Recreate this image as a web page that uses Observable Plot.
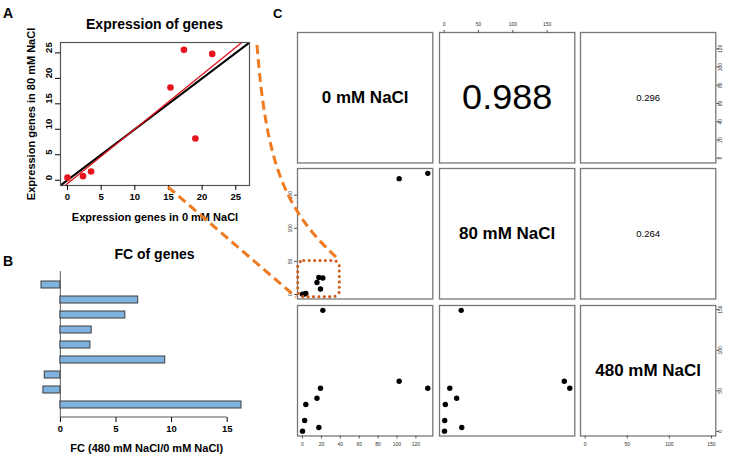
<!DOCTYPE html>
<html><head><meta charset="utf-8">
<script src="https://cdn.jsdelivr.net/npm/d3@7"></script>
<script src="https://cdn.jsdelivr.net/npm/@observablehq/plot@0.6"></script>
<style>
body{margin:0;background:#fff;font-family:"Liberation Sans",Arial,sans-serif}
#root{position:relative;width:737px;height:461px;overflow:hidden;background:#fff}
#root svg{position:absolute;overflow:visible}
</style></head>
<body><div id="root"></div>
<script>
// ---------- data ----------
const genes   = ["G1","G2","G3","G4","G5","G6","G7","G8","G9"];
const expr0   = [0, 2.3, 3.5, 15.3, 17.3, 19.0, 21.5, 102.3, 132.6];
const expr80  = [0.5, 0.8, 1.7, 18.2, 25.6, 8.2, 24.8, 175, 183];
const expr480 = [0.4, 13.5, 33.2, 41, 4.9, 53.3, 149.2, 61.9, 53.3];
const fcGenes  = ["F1","F2","F3","F4","F5","F6","F7","F8","F9"];
const fcValues = [-1.7, 7.0, 5.84, 2.81, 2.7, 9.43, -1.41, -1.53, 16.29];
const varNames = ["0 mM NaCl", "80 mM NaCl", "480 mM NaCl"];
const corPairs = [[0, 1, "0.988"], [0, 2, "0.296"], [1, 2, "0.264"]];
const limA = [0, 26];
const ticksA = [0, 5, 10, 15, 20, 25];
const ticksB = [0, 5, 10, 15];
const pairTicks = [[0, 20, 40, 60, 80, 100, 120], [0, 50, 100, 150], [0, 50, 100, 150]];
const zoomBox = {x1: -4.5, x2: 39.5, y1: -4, y2: 50.5};

const FONT = "Liberation Sans, Arial, sans-serif";
const root = document.getElementById("root");
const ext = a => { const [lo, hi] = d3.extent(a); const d = (hi - lo) * 0.04; return [lo - d, hi + d]; };
function place(el, left, top) { el.style.left = left + "px"; el.style.top = top + "px"; root.appendChild(el); return el; }

const table = genes.map((g, k) => ({gene: g, e0: expr0[k], e80: expr80[k], e480: expr480[k]}));

// ---------- Panel A ----------
const domA = ext(limA);
const inA = table.filter(d => d.e0 <= limA[1] && d.e80 <= limA[1]);
const mx = d3.mean(inA, d => d.e0), my = d3.mean(inA, d => d.e80);
const slope = d3.sum(inA, d => (d.e0 - mx) * (d.e80 - my)) / d3.sum(inA, d => (d.e0 - mx) ** 2);
const icpt = my - slope * mx;
const lineX = [domA[0] - 2, domA[1] + 2];
const A = Plot.plot({
  width: 260, height: 230, marginLeft: 60, marginRight: 11, marginTop: 42, marginBottom: 45,
  style: {fontFamily: FONT, fontSize: "9.5px", fontWeight: "bold", background: "transparent", color: "#000"},
  x: {domain: domA},
  y: {domain: domA},
  marks: [
    Plot.line(lineX, {x: d => d, y: d => d, stroke: "#000", strokeWidth: 2, clip: true}),
    Plot.line(lineX, {x: d => d, y: d => icpt + slope * d, stroke: "#e0141e", strokeWidth: 1.3, clip: true}),
    Plot.dot(inA, {x: "e0", y: "e80", r: 3.3, fill: "#e8141c", stroke: "none"}),
    Plot.frame({stroke: "#555", strokeWidth: 1.2}),
    Plot.axisX({ticks: ticksA, tickSize: 5, tickPadding: 3, label: "Expression genes in 0 mM NaCl", labelAnchor: "center", labelArrow: "none", labelOffset: 35, fontSize: 9.5}),
    Plot.axisY({ticks: ticksA, tickSize: 5, tickFormat: () => "", label: "Expression genes in 80 mM NaCl", labelAnchor: "center", labelArrow: "none", labelOffset: 33, fontSize: 9.5}),
    Plot.text(ticksA, {y: d => d, text: d => String(d), frameAnchor: "left", dx: -12, rotate: -90, fontSize: 9.5, fontWeight: "bold", fill: "#000"})
  ]
});
place(A, 0, 0);
A.querySelectorAll("g[aria-label='x-axis label'] text, g[aria-label='y-axis label'] text").forEach(t => t.setAttribute("font-size", "11"));

// ---------- Panel B ----------
const fcData = fcGenes.map((g, k) => ({gene: g, fc: fcValues[k]}));
const B = Plot.plot({
  width: 260, height: 231, marginLeft: 33, marginRight: 11, marginTop: 41, marginBottom: 44,
  style: {fontFamily: FONT, fontSize: "9.5px", fontWeight: "bold", background: "transparent", color: "#000"},
  x: {domain: ext([0, ...fcValues])},
  y: {domain: fcGenes, axis: null, paddingInner: 0.56, paddingOuter: 0.4},
  marks: [
    Plot.ruleX([0], {stroke: "#777", strokeWidth: 1.2}),
    Plot.barX(fcData, {x: "fc", y: "gene", fill: "#7fb2de", stroke: "#3c3c3c", strokeWidth: 1}),
    Plot.axisX({ticks: ticksB, tickSize: 5, tickPadding: 3, label: null, fontSize: 9.5})
  ]
});
place(B, 0, 230);

// ---------- Panel C (pairs) ----------
const colX = [297.3, 438.7, 580], rowY = [31.7, 168.3, 305], PW = 135.3, PH = 130.5, M = 24;
const keys = ["e0", "e80", "e480"];
const doms = [expr0, expr80, expr480].map(ext);
for (let i = 0; i < 3; i++) for (let j = 0; j < 3; j++) {
  const marks = [];
  const xAxisHere = (j % 2 === 0 && i === 2) || (j % 2 === 1 && i === 0);
  const yAxisHere = (i % 2 === 0 && j === 2) || (i % 2 === 1 && j === 0);
  if (i === j) {
    marks.push(Plot.text([varNames[i]], {text: d => d, frameAnchor: "middle", fontSize: 17, fontWeight: "bold", fill: "#000"}));
  } else if (i < j) {
    const c = corPairs.find(p => p[0] === i && p[1] === j);
    marks.push(Plot.text([c[2]], {text: d => d, frameAnchor: "middle", fontSize: +c[2] > 0.5 ? 36 : 9.5, fill: "#000"}));
  } else {
    marks.push(Plot.dot(table, {x: keys[j], y: keys[i], r: 2.7, fill: "#000", stroke: "none"}));
  }
  marks.push(Plot.frame({stroke: "#777", strokeWidth: 1.3}));
  if (i === 1 && j === 0) {
    marks.push(Plot.rect([zoomBox], {x1: "x1", x2: "x2", y1: "y1", y2: "y2", fill: "none", stroke: "#cf5a1a", strokeWidth: 3, strokeDasharray: "0.1 5.3", strokeLinecap: "round", rx: 6}));
  }
  if (xAxisHere) marks.push(Plot.axisX({anchor: i === 0 ? "top" : "bottom", ticks: pairTicks[j], tickSize: 3, tickPadding: 3.5, label: null, fontSize: 5, fill: "#333"}));
  if (yAxisHere) marks.push(Plot.axisY({anchor: j === 0 ? "left" : "right", ticks: pairTicks[i], tickSize: 3, tickPadding: 3, tickRotate: -90, label: null, fontSize: 5, fill: "#333"}));
  const p = Plot.plot({
    width: PW + 2 * M, height: PH + 2 * M, margin: M,
    style: {fontFamily: FONT, fontSize: "5px", background: "transparent", color: "#555"},
    x: {domain: doms[j], axis: xAxisHere ? undefined : null},
    y: {domain: doms[i], axis: yAxisHere ? undefined : null},
    marks
  });
  place(p, colX[j] - M, rowY[i] - M);
}

// ---------- overlay: letters, titles, B axis line, connectors ----------
const ov = d3.select(root).append("svg").attr("width", 737).attr("height", 461)
  .style("left", "0px").style("top", "0px").style("pointer-events", "none")
  .attr("font-family", FONT);
const xB = B.scale("x");
const bottomB = 230 + 231 - 44;
ov.append("line").attr("x1", xB.apply(ticksB[0])).attr("x2", xB.apply(ticksB[ticksB.length - 1]))
  .attr("y1", bottomB).attr("y2", bottomB).attr("stroke", "#555").attr("stroke-width", 1.2);
const texts = [
  {t: "A", x: 3, y: 18, s: 14, a: "start"},
  {t: "B", x: 3, y: 266, s: 14, a: "start"},
  {t: "C", x: 273, y: 18, s: 13, a: "start"},
  {t: "Expression of genes", x: 154.5, y: 29, s: 14, a: "middle"},
  {t: "FC of genes", x: 154.5, y: 259, s: 14, a: "middle"},
  {t: "FC (480 mM NaCl/0 mM NaCl)", x: 146.7, y: 452, s: 11, a: "middle"}
];
ov.selectAll("text.o").data(texts).join("text").attr("class", "o")
  .attr("x", d => d.x).attr("y", d => d.y).attr("font-size", d => d.s)
  .attr("font-weight", "bold").attr("text-anchor", d => d.a).text(d => d.t);
const orange = "#ef7b22";
ov.append("path").attr("d", "M257,45 C266,160 283,208 336,257").attr("fill", "none")
  .attr("stroke", orange).attr("stroke-width", 3).attr("stroke-dasharray", "9 5");
ov.append("path").attr("d", "M168,187 L296,297").attr("fill", "none")
  .attr("stroke", orange).attr("stroke-width", 3).attr("stroke-dasharray", "9 5");
</script>
</body></html>
